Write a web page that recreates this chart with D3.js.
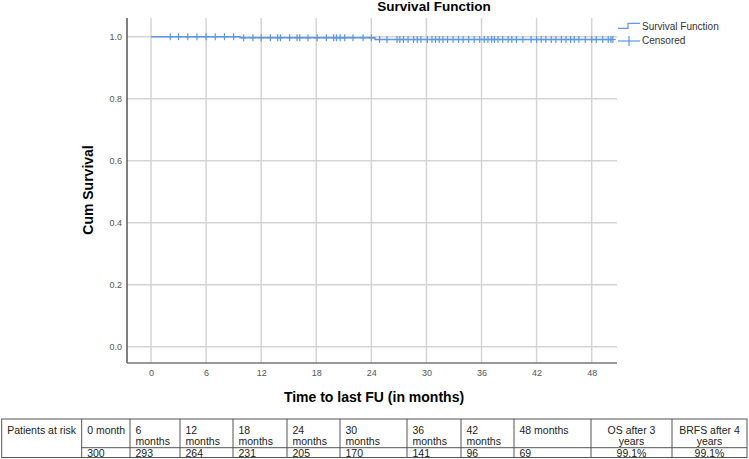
<!DOCTYPE html>
<html>
<head>
<meta charset="utf-8">
<script src="https://cdn.jsdelivr.net/npm/d3@7"></script>
<style>
  body { margin: 0; background: #fff; }
  svg { display: block; font-family: "Liberation Sans", Arial, sans-serif; }
</style>
</head>
<body>
<svg id="chart" width="749" height="459"></svg>
<script>
// KM step points (time in months, cumulative survival)
var stepTimes = [0, 9.7, 24.4, 50.3];
var stepSurv = [1.0, 0.9965, 0.991, 0.991];

// censored observations (months)
var censoredTimes = [2.1, 3.0, 4.0, 5.0, 6.0, 7.0, 8.0, 9.0, 10.1, 11.1, 12.0, 13.0, 13.8, 14.1,
    15.1, 15.9, 16.2, 17.1, 18.1, 19.1, 19.9, 20.2, 20.6, 21.1, 22.0, 23.1, 24.0,
    24.9, 25.7, 26.8, 27.1, 27.5, 28.0, 28.6, 29.0, 29.4, 30.1, 30.6, 31.0, 31.4, 31.8,
    32.3, 32.9, 33.5, 34.0, 34.6, 35.2, 35.8, 36.3, 36.7, 37.1, 37.4, 37.8, 38.3, 38.9,
    39.3, 39.8, 40.5, 41.4, 42.0, 42.5, 43.0, 43.6, 44.1, 44.7, 45.2, 45.7, 46.1, 46.6,
    47.3, 48.0, 48.5, 49.2, 49.8, 50.1, 50.3];

var xTicks = [0, 6, 12, 18, 24, 30, 36, 42, 48];
var yTicks = [0, 0.2, 0.4, 0.6, 0.8, 1.0];

// risk table
var tableHeaders = ['Patients at risk', '0 month', '6|months', '12|months', '18|months', '24|months',
    '30|months', '36|months', '42|months', '48 months', 'OS after 3|years', 'BRFS after 4|years'];
var atRisk = ['', '300', '293', '264', '231', '205', '170', '141', '96', '69', '99.1%', '99.1%'];

var svg = d3.select('#chart');

var plotLeft = 127, plotRight = 617, plotTop = 18, plotBottom = 363;

var x = d3.scaleLinear().domain([0, 48]).range([151, 591.7]);
var y = d3.scaleLinear().domain([0, 1]).range([346.7, 36.7]);

// gridlines
svg.append('g')
    .selectAll('line')
    .data(xTicks)
    .enter()
    .append('line')
    .attr('x1', function (d) { return x(d); })
    .attr('x2', function (d) { return x(d); })
    .attr('y1', plotTop)
    .attr('y2', plotBottom)
    .attr('stroke', '#d4d4d4')
    .attr('stroke-width', 1.5);

svg.append('g')
    .selectAll('line')
    .data(yTicks)
    .enter()
    .append('line')
    .attr('x1', plotLeft)
    .attr('x2', plotRight)
    .attr('y1', function (d) { return y(d); })
    .attr('y2', function (d) { return y(d); })
    .attr('stroke', '#d4d4d4')
    .attr('stroke-width', 1.5);

// axes
var xAxis = svg.append('g')
    .attr('transform', 'translate(0,' + plotBottom + ')')
    .call(d3.axisBottom(x).tickValues(xTicks).tickSize(0).tickPadding(7));
xAxis.select('.domain').remove();

var yAxis = svg.append('g')
    .attr('transform', 'translate(' + plotLeft + ',0)')
    .call(d3.axisLeft(y).tickValues(yTicks).tickSize(0).tickPadding(5).tickFormat(d3.format('.1f')));
yAxis.select('.domain').remove();

svg.selectAll('.tick text')
    .style('font-size', '9px')
    .style('fill', '#555')
    .style('font-family', '"Liberation Sans", Arial, sans-serif');

svg.append('line')
    .attr('x1', plotLeft).attr('x2', plotLeft)
    .attr('y1', plotTop).attr('y2', plotBottom)
    .attr('stroke', '#555').attr('stroke-width', 1.5);
svg.append('line')
    .attr('x1', plotLeft).attr('x2', plotRight)
    .attr('y1', plotBottom).attr('y2', plotBottom)
    .attr('stroke', '#777').attr('stroke-width', 1.5);

// survival curve
var stepData = stepTimes.map(function (t, i) { return [t, stepSurv[i]]; });
var line = d3.line()
    .x(function (d) { return x(d[0]); })
    .y(function (d) { return y(d[1]); })
    .curve(d3.curveStepAfter);

var blue = '#5b98e6';
svg.append('path')
    .datum(stepData)
    .attr('d', line)
    .attr('fill', 'none')
    .attr('stroke', blue)
    .attr('stroke-width', 1.5);

function survAt(t) {
    var i = d3.bisectRight(stepTimes, t) - 1;
    return stepSurv[Math.max(0, i)];
}

var cens = svg.append('g')
    .selectAll('g')
    .data(censoredTimes)
    .enter()
    .append('g')
    .attr('transform', function (d) { return 'translate(' + x(d) + ',' + y(survAt(d)) + ')'; });
cens.append('line').attr('x1', -3).attr('x2', 3).attr('y1', 0).attr('y2', 0)
    .attr('stroke', blue).attr('stroke-width', 1.2);
cens.append('line').attr('x1', 0).attr('x2', 0).attr('y1', -3.5).attr('y2', 3.5)
    .attr('stroke', blue).attr('stroke-width', 1.2);

// titles
svg.append('text')
    .attr('x', 434).attr('y', 11)
    .attr('text-anchor', 'middle')
    .style('font-size', '13.5px').style('font-weight', 'bold')
    .text('Survival Function');

svg.append('text')
    .attr('x', 374).attr('y', 402)
    .attr('text-anchor', 'middle')
    .style('font-size', '14px').style('font-weight', 'bold')
    .text('Time to last FU (in months)');

svg.append('text')
    .attr('transform', 'translate(93,190)rotate(-90)')
    .attr('text-anchor', 'middle')
    .style('font-size', '14px').style('font-weight', 'bold')
    .text('Cum Survival');

// legend
var legend = svg.append('g');
legend.append('path')
    .attr('d', 'M618,28.3H628V23.3H640')
    .attr('fill', 'none').attr('stroke', blue).attr('stroke-width', 1.2);
legend.append('text').attr('x', 642).attr('y', 29.5)
    .style('font-size', '10px').style('fill', '#333').text('Survival Function');
legend.append('line').attr('x1', 618).attr('x2', 640).attr('y1', 41).attr('y2', 41)
    .attr('stroke', blue).attr('stroke-width', 1.2);
legend.append('line').attr('x1', 629).attr('x2', 629).attr('y1', 36).attr('y2', 46)
    .attr('stroke', blue).attr('stroke-width', 1.2);
legend.append('text').attr('x', 642).attr('y', 43.5)
    .style('font-size', '10px').style('fill', '#333').text('Censored');

// risk table
var colEdges = [1.7, 81.7, 130, 180, 233, 287, 340, 407, 461, 514, 591, 672, 747];
var rowTop = 419, rowMid = 447.7, rowBottom = 457.5;
var table = svg.append('g').style('font-size', '10.5px').style('fill', '#222');

table.append('rect')
    .attr('x', colEdges[0]).attr('y', rowTop)
    .attr('width', colEdges[colEdges.length - 1] - colEdges[0])
    .attr('height', rowBottom - rowTop)
    .attr('fill', 'none').attr('stroke', '#555').attr('stroke-width', 1);

table.selectAll('.vline')
    .data(colEdges.slice(1, -1))
    .enter()
    .append('line')
    .attr('class', 'vline')
    .attr('x1', function (d) { return d; }).attr('x2', function (d) { return d; })
    .attr('y1', rowTop).attr('y2', rowBottom)
    .attr('stroke', '#555').attr('stroke-width', 1);

table.append('line')
    .attr('x1', colEdges[1]).attr('x2', colEdges[colEdges.length - 1])
    .attr('y1', rowMid).attr('y2', rowMid)
    .attr('stroke', '#555').attr('stroke-width', 1);

tableHeaders.forEach(function (h, i) {
    var centered = i >= 10;
    var tx = centered ? (colEdges[i] + colEdges[i + 1]) / 2 : colEdges[i] + 5.5;
    var t = table.append('text')
        .attr('x', tx).attr('y', 433.5)
        .attr('text-anchor', centered ? 'middle' : 'start');
    h.split('|').forEach(function (part, j) {
        t.append('tspan').attr('x', tx).attr('dy', j === 0 ? 0 : 11.5).text(part);
    });
});

atRisk.forEach(function (v, i) {
    if (!v) return;
    var centered = i >= 10;
    var tx = centered ? (colEdges[i] + colEdges[i + 1]) / 2 : colEdges[i] + 5.5;
    table.append('text')
        .attr('x', tx).attr('y', 456.5)
        .attr('text-anchor', centered ? 'middle' : 'start')
        .text(v);
});
</script>
</body>
</html>
